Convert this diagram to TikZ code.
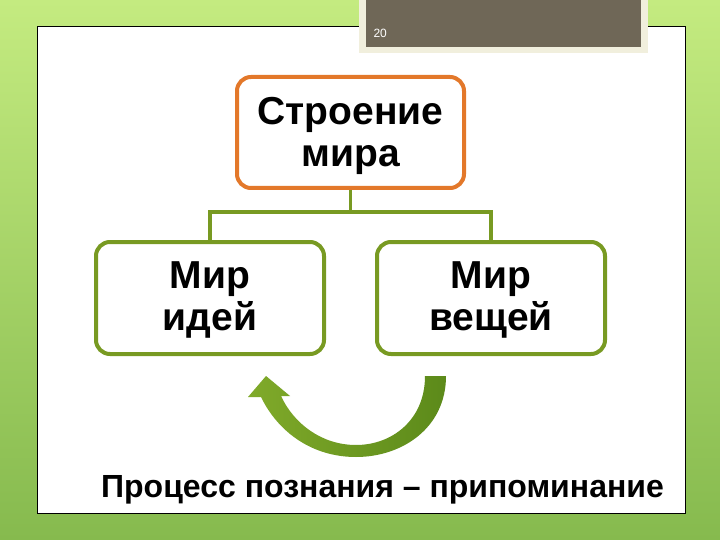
\documentclass[tikz,border=0pt]{standalone}
\usepackage{fontspec}
\setmainfont{Liberation Sans}
\definecolor{bgtop}{HTML}{C4EB80}
\definecolor{bgbot}{HTML}{86BA4E}
\definecolor{orangeb}{HTML}{E3782A}
\definecolor{greenb}{HTML}{789A22}
\definecolor{darkbox}{HTML}{6F6757}
\definecolor{cream}{HTML}{F1EFDD}
\definecolor{arrL}{HTML}{80AA2A}
\definecolor{arrR}{HTML}{5C8A1A}
\tikzset{
  topbox/.style={draw=orangeb, line width=4pt, rounded corners=14pt, fill=white,
    minimum width=227pt, minimum height=111pt},
  subbox/.style={draw=greenb, line width=4pt, rounded corners=14pt, fill=white,
    minimum width=228pt, minimum height=112pt},
  boxtext/.style={align=center, font=\fontsize{39}{42}\selectfont\bfseries},
  conn/.style={draw=greenb, line width=3.5pt}
}
\begin{document}
\begin{tikzpicture}[x=1pt,y=-1pt]
\useasboundingbox (0,0) rectangle (720,540);
% background
\shade[top color=bgtop, bottom color=bgbot] (0,0) rectangle (720,540);
% slide
\draw[black, line width=0.8pt, fill=white] (37,26) rectangle (685,513);
% number box
\fill[cream] (359,-2) rectangle (648,53);
\fill[darkbox] (366,-2) rectangle (641,47);
\node[text=white, font=\fontsize{12}{14}\selectfont, anchor=west] (num) at (370,33) {20};
% boxes
\node[topbox] (top) at (350.5,132.5) {};
\node[subbox] (left) at (210,298) {};
\node[subbox] (right) at (491,298) {};
\node[boxtext] (toplbl) at (350.5,136) {Строение\\мира};
\node[boxtext] (leftlbl) at (210,300) {Мир\\идей};
\node[boxtext] (rightlbl) at (491,300) {Мир\\вещей};
\coordinate (j) at (350.5,212);
\draw[conn] (top.south) -- (j);
\draw[conn] (j) -| (left.north);
\draw[conn] (j) -| (right.north);
% curved arrow
\shade[left color=arrL, right color=arrR]
  (446,376) .. controls (446,428) and (402,457) .. (356,457)
  .. controls (312,457) and (278,432) .. (261,397)
  -- (248,397) -- (266,376) -- (290,396) -- (281,396)
  .. controls (294,424) and (322,445) .. (356,445)
  .. controls (392,445) and (425,420) .. (425,376) -- cycle;
% bottom text
\node[font=\fontsize{32}{34}\selectfont\bfseries, anchor=base] (proc) at (382.5,497) {Процесс познания – припоминание};
\end{tikzpicture}
\end{document}
